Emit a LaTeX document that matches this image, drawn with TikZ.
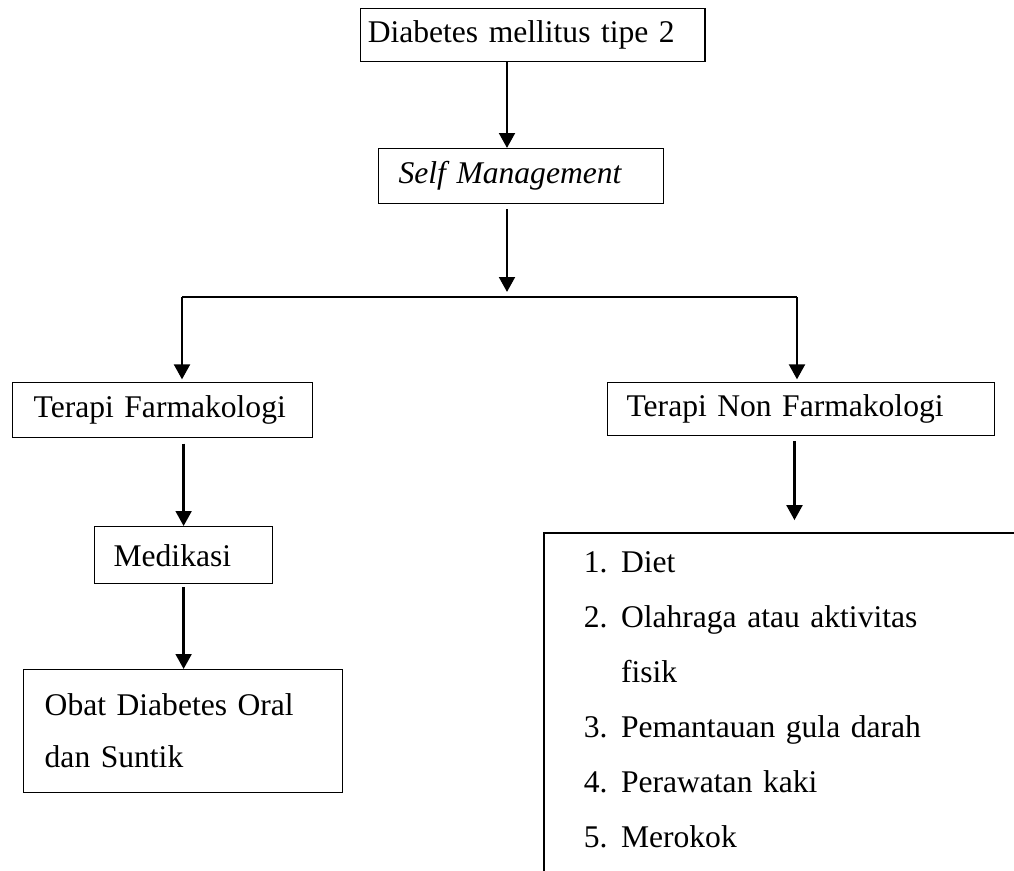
\documentclass[tikz,border=0pt]{standalone}
\usepackage{fontspec}
\setmainfont{Liberation Serif}
\usetikzlibrary{arrows.meta}

\newcommand{\butir}[2]{\makebox[14.1pt][l]{#1}#2}

\begin{document}
\begin{tikzpicture}[
  x=0.38pt, y=-0.38pt,
  >={Triangle[length=5.7pt,width=6pt]},
  kotak/.style={rectangle, draw=black, line width=0.5pt, anchor=north west,
                align=left, inner ysep=0pt,
                font=\fontsize{12pt}{20pt}\selectfont},
  panah/.style={->, line width=1pt}
]
\useasboundingbox (0,0) rectangle (1014,871);
\clip (0,0) rectangle (1014,871);

% --- Kotak ---
\node[kotak, inner xsep=2.7pt, text width=125.4pt, minimum height=20.1pt]
  (dm) at (360,8) {Diabetes mellitus tipe 2};
\node[kotak, inner xsep=7.6pt, text width=93.1pt, minimum height=20.9pt]
  (sm) at (378,148) {\textit{Self Management}};
\node[kotak, inner xsep=8pt, text width=98pt, minimum height=20.9pt]
  (farm) at (12,382) {Terapi Farmakologi};
\node[kotak, inner xsep=7.2pt, text width=132.6pt, minimum height=20.1pt]
  (nonf) at (607,382) {Terapi Non Farmakologi};
\node[kotak, inner xsep=7.2pt, text width=53.2pt, minimum height=21.7pt]
  (med) at (94,526) {Medikasi};
\node[kotak, inner xsep=8pt, text width=105.2pt, minimum height=46.7pt,
      font=\fontsize{12pt}{19.8pt}\selectfont]
  (obat) at (23,669) {Obat Diabetes Oral\\dan Suntik};
\node[kotak, inner xsep=15.2pt, inner ysep=7pt, text width=220pt,
      line width=0.7pt, font=\fontsize{12pt}{20.9pt}\selectfont]
  (daftar) at (543,532) {\butir{1.}{Diet}\\
    \butir{2.}{Olahraga atau aktivitas}\\
    \butir{}{fisik}\\
    \butir{3.}{Pemantauan gula darah}\\
    \butir{4.}{Perawatan kaki}\\
    \butir{5.}{Merokok}\\
    \mbox{}};

% --- Cabang ---
\coordinate (cabang)   at (507,297);
\coordinate (cabkiri)  at (182,297);
\coordinate (cabkanan) at (797,297);

% --- Panah ---
\draw[panah] (dm.south -| cabang) -- (sm.north -| cabang);
\draw[panah] ([yshift=-1.9pt]sm.south -| cabang) -- ([yshift=1.9pt]cabang);
\draw[line width=0.8pt] (cabkiri) -- (cabkanan);
\draw[panah] (cabkiri) -- ([yshift=1pt]farm.north -| cabkiri);
\draw[panah] (cabkanan) -- ([yshift=1pt]nonf.north -| cabkanan);
\draw[panah] ([yshift=-2pt]farm.south -| med.north) -- (med.north);
\draw[panah] ([yshift=-1pt]med.south) -- (obat.north -| med.south);
\draw[panah] ([xshift=-2.5pt,yshift=-2pt]nonf.south)
  -- ([xshift=-2.5pt,yshift=4.5pt]nonf.south |- daftar.north);

\end{tikzpicture}
\end{document}
